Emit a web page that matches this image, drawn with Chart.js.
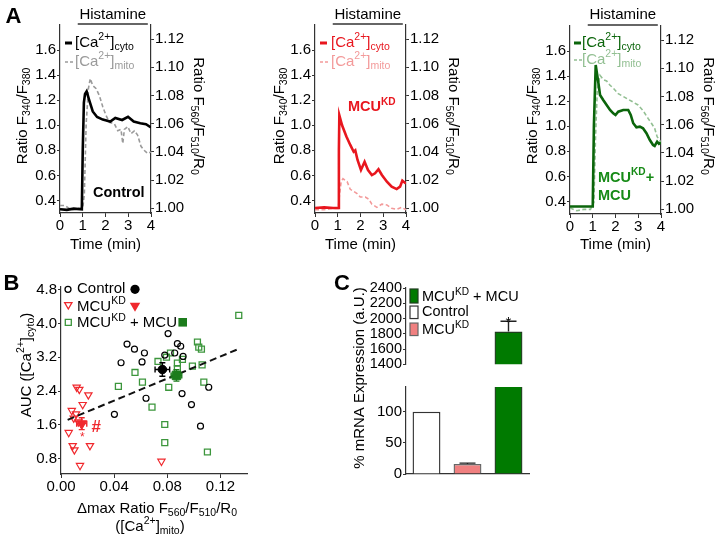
<!DOCTYPE html>
<html>
<head>
<meta charset="utf-8">
<script src="https://cdn.jsdelivr.net/npm/chart.js@4.4.1/dist/chart.umd.min.js"></script>
<style>
  html, body { margin: 0; padding: 0; background: #fff; }
  #wrap { position: relative; width: 718px; height: 542px; overflow: hidden; }
  canvas { position: absolute; }
</style>
</head>
<body>
<div id="wrap"></div>
<script>
// ---------- DATA: panel A traces (time in min) ----------
const timeTicks = [0, 1, 2, 3, 4];
const furaTicks = [0.4, 0.6, 0.8, 1.0, 1.2, 1.4, 1.6];
const mitoTicks = [1.00, 1.02, 1.04, 1.06, 1.08, 1.10, 1.12];
const histamineOn = [0.78, 3.86];

const ctrlCytoT = [0, 0.3, 0.6, 0.96, 1.0, 1.05, 1.1, 1.17, 1.29, 1.44, 1.63, 1.88, 2.21, 2.43, 2.73, 2.99, 3.24, 3.53, 3.78, 4.0];
const ctrlCytoV = [0.33, 0.325, 0.335, 0.33, 0.8, 1.18, 1.25, 1.27, 1.196, 1.11, 1.066, 1.045, 1.03, 1.058, 1.042, 1.068, 1.03, 1.016, 1.008, 0.982];
const ctrlMitoT = [0, 0.2, 0.5, 0.8, 1.0, 1.07, 1.15, 1.25, 1.33, 1.44, 1.58, 1.73, 1.88, 2.02, 2.17, 2.39, 2.54, 2.68, 2.76, 2.83, 2.98, 3.12, 3.27, 3.41, 3.56, 3.71, 3.85, 4.0];
const ctrlMitoV = [1.002, 1.002, 0.999, 1.0, 1.0, 1.01, 1.06, 1.085, 1.092, 1.087, 1.085, 1.08, 1.072, 1.066, 1.061, 1.06, 1.055, 1.056, 1.046, 1.056, 1.058, 1.053, 1.055, 1.052, 1.044, 1.041, 1.039, 1.04];

const kdCytoT = [0, 0.4, 0.8, 1.02, 1.05, 1.07, 1.19, 1.38, 1.55, 1.70, 1.77, 1.87, 2.02, 2.18, 2.33, 2.50, 2.64, 2.79, 2.94, 3.16, 3.37, 3.59, 3.74, 3.84, 4.0];
const kdCytoV = [0.34, 0.345, 0.34, 0.34, 0.8, 1.08, 1.0, 0.91, 0.843, 0.789, 0.8, 0.723, 0.643, 0.709, 0.643, 0.603, 0.617, 0.649, 0.603, 0.55, 0.51, 0.491, 0.51, 0.558, 0.535];
const kdMitoT = [0, 0.4, 0.8, 1.02, 1.08, 1.15, 1.23, 1.41, 1.55, 1.70, 1.85, 1.99, 2.21, 2.36, 2.50, 2.72, 2.94, 3.16, 3.37, 3.59, 3.81, 4.0];
const kdMitoV = [0.999, 0.999, 1.0, 1.0, 1.01, 1.019, 1.021, 1.019, 1.0135, 1.012, 1.0105, 1.008, 1.008, 1.0065, 1.003, 1.0007, 1.003, 1.0024, 1.0, 0.9993, 1.0007, 0.999];

const rescCytoT = [0, 0.4, 0.8, 1.0, 1.05, 1.13, 1.25, 1.32, 1.46, 1.61, 1.76, 1.90, 2.0, 2.12, 2.34, 2.56, 2.67, 2.78, 2.92, 3.07, 3.21, 3.36, 3.51, 3.65, 3.72, 3.83, 3.91, 4.0];
const rescCytoV = [0.36, 0.36, 0.36, 0.36, 1.0, 1.489, 1.343, 1.25, 1.21, 1.17, 1.13, 1.103, 1.09, 1.116, 1.13, 1.13, 1.09, 1.024, 0.992, 0.997, 0.984, 0.944, 0.89, 0.85, 0.843, 0.877, 0.86, 0.87];
const rescMitoT = [0, 0.3, 0.6, 0.9, 1.05, 1.12, 1.2, 1.32, 1.46, 1.61, 1.76, 1.90, 2.12, 2.34, 2.56, 2.78, 2.99, 3.21, 3.43, 3.58, 3.72, 3.83, 3.94, 4.0];
const rescMitoV = [1.001, 0.999, 1.0, 1.0, 1.005, 1.05, 1.085, 1.095, 1.092, 1.091, 1.088, 1.086, 1.082, 1.08, 1.078, 1.076, 1.074, 1.07, 1.0645, 1.061, 1.0575, 1.0515, 1.049, 1.047];

// ---------- DATA: panel B scatter ----------
const aucXTicks = [0, 0.04, 0.08, 0.12];
const aucYTicks = [0.8, 1.6, 2.4, 3.2, 4.0, 4.8];
const ctrlX = [0.0402, 0.0452, 0.0497, 0.0553, 0.0628, 0.061, 0.064, 0.0806, 0.0876, 0.0901, 0.0856, 0.0781, 0.0919, 0.0911, 0.0982, 0.105, 0.1112];
const ctrlY = [1.85, 3.07, 3.51, 3.39, 3.30, 3.09, 2.23, 3.76, 3.52, 3.46, 3.30, 3.25, 3.22, 2.34, 2.08, 1.57, 2.49];
const kdX = [0.0118, 0.0138, 0.0206, 0.0163, 0.0081, 0.0113, 0.0096, 0.0131, 0.0058, 0.0088, 0.0101, 0.0218, 0.0143, 0.0756];
const kdY = [2.49, 2.44, 2.31, 2.08, 1.94, 1.86, 1.76, 1.67, 1.42, 1.11, 1.01, 1.11, 0.64, 0.74];
const rescX = [0.1338, 0.1027, 0.1037, 0.1057, 0.0824, 0.0914, 0.0794, 0.073, 0.0876, 0.0989, 0.1062, 0.0613, 0.0811, 0.1075, 0.0685, 0.0781, 0.0781, 0.1102, 0.0432, 0.0557, 0.0876];
const rescY = [4.19, 3.56, 3.44, 3.39, 3.30, 3.15, 3.20, 3.10, 3.06, 2.99, 3.02, 2.61, 2.49, 2.61, 2.02, 1.61, 1.18, 0.96, 2.51, 2.84, 2.93];
const meanX = [0.0763, 0.0156, 0.0869];
const meanY = [2.91, 1.63, 2.77];
const meanErrX = [0.0055, 0.0038, 0.004];
const meanErrY = [0.16, 0.14, 0.135];
const trendX = [0.005, 0.134];
const trendY = [1.72, 3.40];

// ---------- DATA: panel C bars ----------
const mrnaGroups = ['Control', 'MCU KD', 'MCU KD + MCU'];
const mrnaPct = [100, 16, 1830];
const mrnaErr = [0, 1.5, 135];
const upperTicks = [1400, 1600, 1800, 2000, 2200, 2400];
const lowerTicks = [0, 50, 100];

// ---------- helpers ----------
const FONT = "'Liberation Sans', Arial, sans-serif";
const AXIS = '#333';
const fontStr = (s, b) => (b ? 'bold ' : '') + s + 'px ' + FONT;
const pts = (xs, ys) => xs.map((x, i) => ({ x: x, y: ys[i] }));
const fixTicks = (vals) => (s) => { s.ticks = vals.map(v => ({ value: v })); };

Chart.defaults.font.family = FONT;
Chart.defaults.font.size = 15;
Chart.defaults.color = '#000';

function makeCanvas(x, y, w, h) {
  const c = document.createElement('canvas');
  c.width = w; c.height = h;
  c.style.left = x + 'px'; c.style.top = y + 'px';
  c.style.width = w + 'px'; c.style.height = h + 'px';
  document.getElementById('wrap').appendChild(c);
  return c;
}

// segs: [[text, ''|'sup'|'sub'], ...]
function drawRich(ctx, segs, x, y, o) {
  const size = o.size || 15;
  ctx.save();
  ctx.translate(x, y);
  if (o.rot) ctx.rotate(o.rot);
  ctx.fillStyle = o.color || '#000';
  ctx.textBaseline = 'middle';
  ctx.textAlign = 'left';
  let w = 0;
  segs.forEach(([t, m]) => { ctx.font = fontStr(m ? size * 0.7 : size, o.bold); w += ctx.measureText(t).width; });
  let cx = o.align === 'center' ? -w / 2 : (o.align === 'right' ? -w : 0);
  segs.forEach(([t, m]) => {
    ctx.font = fontStr(m ? size * 0.7 : size, o.bold);
    const dy = m === 'sup' ? -size * 0.36 : (m === 'sub' ? size * 0.3 : 0);
    ctx.fillText(t, cx, dy);
    cx += ctx.measureText(t).width;
  });
  ctx.restore();
}

function axisOpts(extra, tickLen) {
  return Object.assign({
    grid: { drawOnChartArea: false, drawTicks: true, tickLength: tickLen || 3, color: AXIS },
    border: { display: true, color: AXIS, width: 1.2 },
  }, extra);
}

const CA_CYTO = [['[Ca', ''], ['2+', 'sup'], [']', ''], ['cyto', 'sub']];
const CA_MITO = [['[Ca', ''], ['2+', 'sup'], [']', ''], ['mito', 'sub']];
const RATIO_L = [['Ratio F', ''], ['340', 'sub'], ['/F', ''], ['380', 'sub']];
const RATIO_R = [['Ratio F', ''], ['560', 'sub'], ['/F', ''], ['510', 'sub'], ['/R', ''], ['0', 'sub']];
const MCU_KD = [['MCU', ''], ['KD', 'sup']];

/* ---------- PANEL A ---------- */

const panelsA = [
  { left: 60, right: 151, top: 25, bottom: 213, cytoT: ctrlCytoT, cytoV: ctrlCytoV, mitoT: ctrlMitoT, mitoV: ctrlMitoV,
    cytoColor: '#000000', mitoColor: '#9a9a9a', legendX: 65, legendTextX: 75, legendY: [43, 62],
    label: [[['Control', '']]], labelColor: '#000', labelX: 93, labelY: [193],
    yTitleX: 23, y2TitleX: 198, letter: 'A' },
  { left: 315, right: 406, top: 25, bottom: 213, cytoT: kdCytoT, cytoV: kdCytoV, mitoT: kdMitoT, mitoV: kdMitoV,
    cytoColor: '#e8161e', mitoColor: '#f39a9a', legendX: 320, legendTextX: 331, legendY: [43, 62],
    label: [MCU_KD], labelColor: '#e8161e', labelX: 348, labelY: [107],
    yTitleX: 280, y2TitleX: 453 },
  { left: 570, right: 661, top: 26, bottom: 214, cytoT: rescCytoT, cytoV: rescCytoV, mitoT: rescMitoT, mitoV: rescMitoV,
    cytoColor: '#0b650b', mitoColor: '#92bf92', legendX: 574, legendTextX: 582, legendY: [43, 60],
    label: [[['MCU', ''], ['KD', 'sup'], ['+', '']], [['MCU', '']]], labelColor: '#168a16', labelX: 598, labelY: [177.5, 195.5],
    yTitleX: 533, y2TitleX: 708 },
];

function decorA(p, cl) {
  return {
    id: 'decorA',
    afterDraw(chart) {
      const ctx = chart.ctx, a = chart.chartArea, xs = chart.scales.x;
      const px = v => v - cl;
      ctx.save();
      // histamine bar
      const h0 = xs.getPixelForValue(histamineOn[0]), h1 = xs.getPixelForValue(histamineOn[1]);
      ctx.strokeStyle = '#333'; ctx.lineWidth = 1.4;
      ctx.beginPath(); ctx.moveTo(h0, a.top - 1); ctx.lineTo(h1, a.top - 1); ctx.stroke();
      drawRich(ctx, [['Histamine', '']], (h0 + h1) / 2, 15, { size: 15, align: 'center' });
      // legend
      const lx = px(p.legendX);
      ctx.strokeStyle = p.cytoColor; ctx.lineWidth = 3;
      ctx.beginPath(); ctx.moveTo(lx, p.legendY[0]); ctx.lineTo(lx + 7, p.legendY[0]); ctx.stroke();
      ctx.strokeStyle = p.mitoColor; ctx.lineWidth = 1.5; ctx.setLineDash([3, 2]);
      ctx.beginPath(); ctx.moveTo(lx, p.legendY[1]); ctx.lineTo(lx + 8, p.legendY[1]); ctx.stroke();
      ctx.setLineDash([]);
      drawRich(ctx, CA_CYTO, px(p.legendTextX), p.legendY[0], { size: 15, color: p.cytoColor });
      drawRich(ctx, CA_MITO, px(p.legendTextX), p.legendY[1], { size: 15, color: p.mitoColor });
      // condition label
      p.label.forEach((segs, i) => drawRich(ctx, segs, px(p.labelX), p.labelY[i], { size: 14.5, bold: true, color: p.labelColor }));
      // axis titles
      drawRich(ctx, RATIO_L, px(p.yTitleX), 116, { size: 15, align: 'center', rot: -Math.PI / 2 });
      drawRich(ctx, RATIO_R, px(p.y2TitleX), 116, { size: 15, align: 'center', rot: Math.PI / 2 });
      drawRich(ctx, [['Time (min)', '']], (a.left + a.right) / 2, 245, { size: 15, align: 'center' });
      if (p.letter) drawRich(ctx, [[p.letter, '']], 13.5, 16.5, { size: 22, bold: true, align: 'center' });
      ctx.restore();
    }
  };
}

panelsA.forEach(p => {
  const cl = p.left - 60;
  const cw = Math.min(p.right + 62, 718) - cl, ch = 260;
  const m = { l: p.left - cl, r: cl + cw - p.right, t: p.top, b: ch - p.bottom };
  const cv = makeCanvas(cl, 0, cw, ch);
  new Chart(cv, {
    type: 'line',
    data: {
      datasets: [
        { data: pts(p.cytoT, p.cytoV), yAxisID: 'y', borderColor: p.cytoColor, borderWidth: 2.6 },
        { data: pts(p.mitoT, p.mitoV), yAxisID: 'y2', borderColor: p.mitoColor, borderWidth: 1.6, borderDash: [4, 2.5] },
      ],
    },
    options: {
      responsive: false, animation: false, devicePixelRatio: 1,
      layout: { padding: { top: m.t, left: 0, right: 0, bottom: 0 } },
      elements: { point: { radius: 0 }, line: { tension: 0 } },
      plugins: { legend: { display: false }, tooltip: { enabled: false } },
      scales: {
        x: axisOpts({ type: 'linear', min: 0, max: 4, afterBuildTicks: fixTicks(timeTicks),
          afterFit: s => { s.height = m.b; }, ticks: { padding: 0, maxRotation: 0, autoSkip: false } }, 4),
        y: axisOpts({ position: 'left', min: 0.3, max: 1.8, afterBuildTicks: fixTicks(furaTicks),
          afterFit: s => { s.width = m.l; }, ticks: { padding: 1, autoSkip: false, callback: v => v.toFixed(1) } }),
        y2: axisOpts({ position: 'right', min: 0.9967, max: 1.13, afterBuildTicks: fixTicks(mitoTicks),
          afterFit: s => { s.width = m.r; }, ticks: { padding: 1, autoSkip: false, callback: v => v.toFixed(2) } }),
      },
    },
    plugins: [decorA(p, cl)],
  });
});

/* ---------- PANEL B ---------- */

const RED = '#f0282d', GREEN = '#3c963c', GREEN_D = '#1c7c1c';

function marker(ctx, kind, x, y, r, fill, stroke) {
  ctx.beginPath();
  if (kind === 'circle') ctx.arc(x, y, r, 0, Math.PI * 2);
  else if (kind === 'tri') { ctx.moveTo(x - r * 0.87, y - r * 0.5); ctx.lineTo(x + r * 0.87, y - r * 0.5); ctx.lineTo(x, y + r); ctx.closePath(); }
  else ctx.rect(x - r, y - r, 2 * r, 2 * r);
  if (fill) { ctx.fillStyle = fill; ctx.fill(); }
  if (stroke) { ctx.strokeStyle = stroke; ctx.lineWidth = 1.3; ctx.stroke(); }
}

const decorB = {
  id: 'decorB',
  afterDatasetsDraw(chart) {
    const ctx = chart.ctx, xs = chart.scales.x, ys = chart.scales.y;
    const cols = ['#000', RED, GREEN_D];
    ctx.save();
    meanX.forEach((mx, i) => {
      const x = xs.getPixelForValue(mx), y = ys.getPixelForValue(meanY[i]);
      const x0 = xs.getPixelForValue(mx - meanErrX[i]), x1 = xs.getPixelForValue(mx + meanErrX[i]);
      const y0 = ys.getPixelForValue(meanY[i] - meanErrY[i]), y1 = ys.getPixelForValue(meanY[i] + meanErrY[i]);
      ctx.strokeStyle = cols[i]; ctx.lineWidth = 1.4;
      ctx.beginPath();
      ctx.moveTo(x0, y); ctx.lineTo(x1, y);
      ctx.moveTo(x0, y - 3); ctx.lineTo(x0, y + 3);
      ctx.moveTo(x1, y - 3); ctx.lineTo(x1, y + 3);
      ctx.moveTo(x, y0); ctx.lineTo(x, y1);
      ctx.moveTo(x - 3, y0); ctx.lineTo(x + 3, y0);
      ctx.moveTo(x - 3, y1); ctx.lineTo(x + 3, y1);
      ctx.stroke();
    });
    // significance marks beside the MCU KD mean
    drawRich(ctx, [['#', '']], xs.getPixelForValue(0.0266), ys.getPixelForValue(1.55), { size: 17, bold: true, color: RED, align: 'center' });
    drawRich(ctx, [['*', '']], xs.getPixelForValue(0.016), ys.getPixelForValue(1.31), { size: 12, color: RED, align: 'center' });
    ctx.restore();
  },
  afterDraw(chart) {
    const ctx = chart.ctx;
    const oy = 270;
    ctx.save();
    // legend
    const rows = [289.3, 305.8, 322.3];
    marker(ctx, 'circle', 68, rows[0] - oy, 3, null, '#000');
    marker(ctx, 'tri', 68.3, rows[1] - oy - 1, 4.2, null, RED);
    marker(ctx, 'rect', 68.3, rows[2] - oy, 3, null, GREEN);
    drawRich(ctx, [['Control', '']], 77, rows[0] - oy, { size: 15 });
    drawRich(ctx, MCU_KD, 77, rows[1] - oy + 1, { size: 15 });
    drawRich(ctx, [['MCU', ''], ['KD', 'sup'], [' + MCU', '']], 77, rows[2] - oy + 1, { size: 15 });
    marker(ctx, 'circle', 135, rows[0] - oy, 4.6, '#000', null);
    marker(ctx, 'tri', 135, rows[1] - oy, 6, RED, null);
    marker(ctx, 'rect', 182.7, rows[2] - oy, 4.3, GREEN_D, null);
    // titles
    drawRich(ctx, [['AUC ([Ca', ''], ['2+', 'sup'], [']', ''], ['cyto', 'sub'], [')', '']], 26.7, 365 - oy, { size: 15, align: 'center', rot: -Math.PI / 2 });
    drawRich(ctx, [['\u0394max Ratio F', ''], ['560', 'sub'], ['/F', ''], ['510', 'sub'], ['/R', ''], ['0', 'sub']], 157, 509 - oy, { size: 15, align: 'center' });
    drawRich(ctx, [['([Ca', ''], ['2+', 'sup'], [']', ''], ['mito', 'sub'], [')', '']], 150, 526.7 - oy, { size: 15, align: 'center' });
    drawRich(ctx, [['B', '']], 11.5, 283.5 - oy, { size: 22, bold: true, align: 'center' });
    ctx.restore();
  }
};

(function () {
  const box = { l: 61, t: 287, r: 247, b: 474 };
  const cl = 0, ct = 270, cw = 267, ch = 272;
  const m = { l: box.l - cl, t: box.t - ct, r: cl + cw - box.r, b: ct + ch - box.b };
  const cv = makeCanvas(cl, ct, cw, ch);
  new Chart(cv, {
    type: 'scatter',
    data: {
      datasets: [
        { data: pts(meanX, meanY), pointStyle: ['circle', 'triangle', 'rect'], rotation: [0, 180, 0],
          pointRadius: [4.3, 5.8, 6], backgroundColor: ['#000', RED, GREEN_D], borderColor: ['#000', RED, GREEN_D], borderWidth: 1 },
        { type: 'line', data: pts(trendX, trendY), borderColor: '#111', borderWidth: 2, borderDash: [7, 4], pointRadius: 0 },
        { data: pts(ctrlX, ctrlY), pointStyle: 'circle', pointRadius: 3, borderColor: '#000', backgroundColor: 'rgba(0,0,0,0)', borderWidth: 1.2 },
        { data: pts(kdX, kdY), pointStyle: 'triangle', rotation: 180, pointRadius: 4.2, borderColor: RED, backgroundColor: 'rgba(0,0,0,0)', borderWidth: 1.2 },
        { data: pts(rescX, rescY), pointStyle: 'rect', pointRadius: 4.2, borderColor: GREEN, backgroundColor: 'rgba(0,0,0,0)', borderWidth: 1.3 },
      ],
    },
    options: {
      responsive: false, animation: false, devicePixelRatio: 1,
      layout: { padding: { top: m.t, right: m.r, left: 0, bottom: 0 } },
      plugins: { legend: { display: false }, tooltip: { enabled: false } },
      scales: {
        x: axisOpts({ type: 'linear', min: 0, max: 0.14, afterBuildTicks: fixTicks(aucXTicks),
          afterFit: s => { s.height = m.b; }, ticks: { padding: 0, maxRotation: 0, autoSkip: false, callback: v => v.toFixed(2) } }, 4),
        y: axisOpts({ min: 0.44, max: 4.86, afterBuildTicks: fixTicks(aucYTicks),
          afterFit: s => { s.width = m.l; }, ticks: { padding: 1, autoSkip: false, callback: v => v.toFixed(1) } }),
      },
    },
    plugins: [decorB],
  });
})();

/* ---------- PANEL C ---------- */

const barFill = ['#ffffff', '#f08080', '#007a00'];
const barEdge = ['#333333', '#666666', '#1e3d1e'];

const mrnaErrBars = {
  id: 'mrnaErr',
  afterDatasetsDraw(chart) {
    const ctx = chart.ctx, xs = chart.scales.x, ys = chart.scales.y, a = chart.chartArea;
    ctx.save();
    ctx.beginPath(); ctx.rect(a.left, a.top - 1, a.right - a.left, a.bottom - a.top + 1); ctx.clip();
    mrnaPct.forEach((v, i) => {
      if (!mrnaErr[i]) return;
      const x = xs.getPixelForValue(i), yv = ys.getPixelForValue(v), ye = ys.getPixelForValue(v + mrnaErr[i]);
      ctx.strokeStyle = '#222'; ctx.lineWidth = 1.4;
      ctx.beginPath(); ctx.moveTo(x, yv); ctx.lineTo(x, ye); ctx.moveTo(x - 8, ye); ctx.lineTo(x + 8, ye); ctx.stroke();
    });
    ctx.restore();
    // significance star on top of the rescue bar
    const top = mrnaPct[2] + mrnaErr[2];
    if (top <= ys.max && top >= ys.min) {
      ctx.save();
      ctx.font = fontStr(15, false); ctx.fillStyle = '#000'; ctx.textAlign = 'center'; ctx.textBaseline = 'alphabetic';
      ctx.fillText('*', xs.getPixelForValue(2), ys.getPixelForValue(top) + 6);
      ctx.restore();
    }
  }
};

const decorCUpper = {
  id: 'decorCU',
  afterDraw(chart) {
    const ctx = chart.ctx, ox = 300, oy = 270;
    ctx.save();
    const rows = [296, 312.3, 329.3];
    const labels = [[['MCU', ''], ['KD', 'sup'], [' + MCU', '']], [['Control', '']], MCU_KD];
    const fills = [barFill[2], barFill[0], barFill[1]];
    const edges = [barEdge[2], barEdge[0], barEdge[1]];
    rows.forEach((ry, i) => {
      ctx.fillStyle = fills[i]; ctx.strokeStyle = edges[i]; ctx.lineWidth = 1.2;
      const h = i === 0 ? 14 : 12.5;
      ctx.fillRect(410 - ox, ry - h / 2 - oy, 8, h);
      ctx.strokeRect(410 - ox, ry - h / 2 - oy, 8, h);
      drawRich(ctx, labels[i], 422 - ox, ry - oy + (i === 1 ? 0 : 1), { size: 14.5 });
    });
    drawRich(ctx, [['C', '']], 342 - ox, 284 - oy, { size: 22, bold: true, align: 'center' });
    ctx.restore();
  }
};

const decorCLower = {
  id: 'decorCL',
  afterDraw(chart) {
    drawRich(chart.ctx, [['% mRNA Expression (a.U.)', '']], 360 - 300, 378 - 270, { size: 15, align: 'center', rot: -Math.PI / 2 });
  }
};

function barData() {
  return {
    labels: mrnaGroups,
    datasets: [{ data: mrnaPct, backgroundColor: barFill, borderColor: barEdge, borderWidth: 1.4,
      barPercentage: 0.68, categoryPercentage: 1, clip: 0 }],
  };
}

(function () {
  // upper segment of the broken axis
  const cl = 300, ct = 270, cw = 418, ch = 104;
  const box = { l: 406, t: 288, r: 529, b: 374 };
  const m = { l: box.l - cl, t: box.t - ct, r: cl + cw - box.r };
  const cv = makeCanvas(cl, ct, cw, ch);
  new Chart(cv, {
    type: 'bar',
    data: barData(),
    options: {
      responsive: false, animation: false, devicePixelRatio: 1,
      layout: { padding: { top: m.t, right: m.r, left: 0, bottom: 0 } },
      plugins: { legend: { display: false }, tooltip: { enabled: false } },
      scales: {
        x: { display: false },
        y: axisOpts({ min: 1400, max: 2400, afterBuildTicks: fixTicks(upperTicks),
          afterFit: s => { s.width = m.l; }, ticks: { padding: 1, autoSkip: false, font: { size: 14.5 }, callback: v => String(v) } }),
      },
    },
    plugins: [mrnaErrBars, decorCUpper],
  });
})();

(function () {
  // lower segment
  const cl = 300, ct = 270, cw = 250, ch = 230;
  const box = { l: 406, t: 387, r: 529, b: 474 };
  const m = { l: box.l - cl, t: box.t - ct, r: cl + cw - box.r, b: ct + ch - box.b };
  const cv = makeCanvas(cl, ct, cw, ch);
  new Chart(cv, {
    type: 'bar',
    data: barData(),
    options: {
      responsive: false, animation: false, devicePixelRatio: 1,
      layout: { padding: { top: m.t, right: m.r, left: 0, bottom: 0 } },
      plugins: { legend: { display: false }, tooltip: { enabled: false } },
      scales: {
        x: { afterFit: s => { s.height = m.b; }, ticks: { display: false },
          grid: { drawOnChartArea: false, drawTicks: false, color: AXIS }, border: { display: true, color: AXIS, width: 1.2 } },
        y: axisOpts({ min: 0, max: 140, afterBuildTicks: fixTicks(lowerTicks),
          afterFit: s => { s.width = m.l; }, ticks: { padding: 1, autoSkip: false, callback: v => String(v) } }),
      },
    },
    plugins: [mrnaErrBars, decorCLower],
  });
})();
</script>
</body>
</html>
